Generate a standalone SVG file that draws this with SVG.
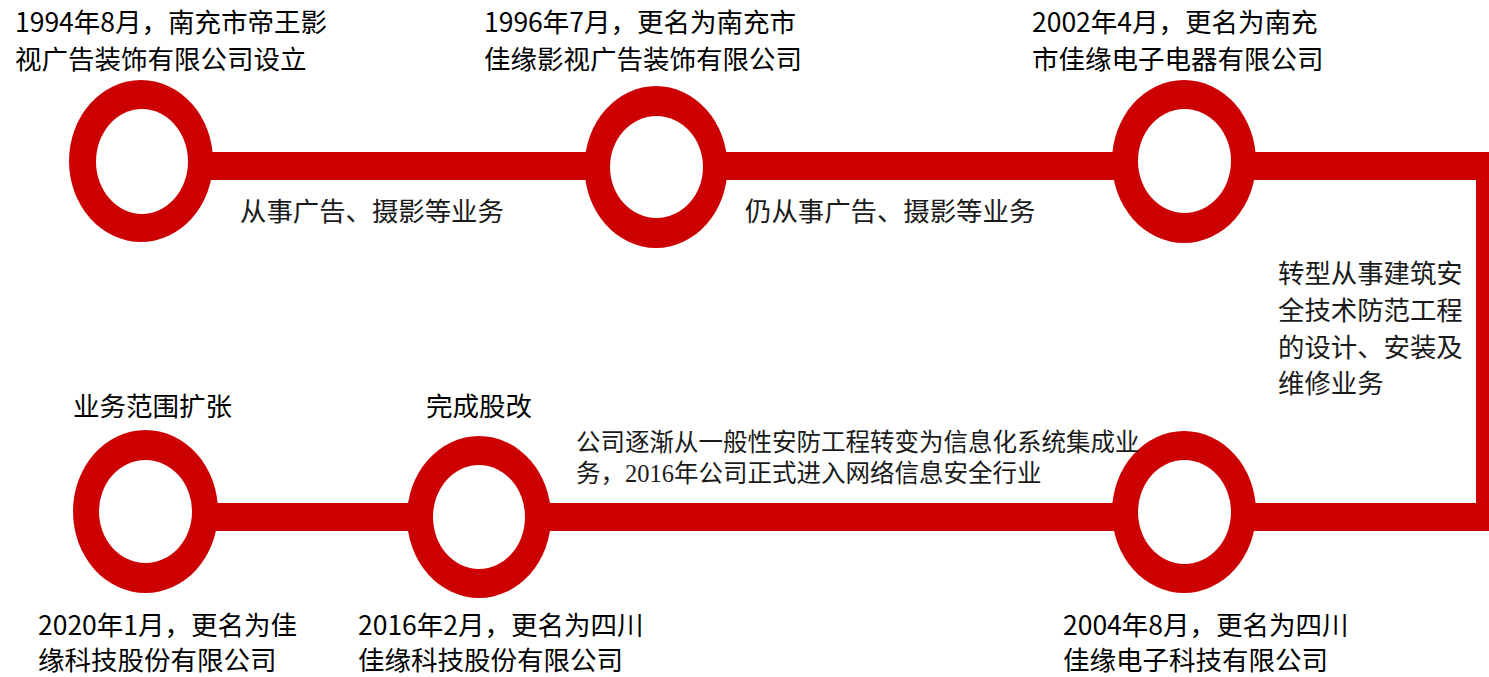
<svg xmlns="http://www.w3.org/2000/svg" width="1489" height="677" viewBox="0 0 1489 677">
<style>
.ro{fill:#CC0000}
.ri{fill:#FFFFFF}
.t{font-family:"Noto Sans CJK SC","Noto Sans",sans-serif;font-size:26.5px;fill:#000}
.s{font-family:"Liberation Serif","Noto Sans CJK SC",serif;font-size:26.4px;fill:#1a1a1a}
.s2{font-family:"Liberation Serif","Noto Sans CJK SC",serif;font-size:24.5px;fill:#1a1a1a}
</style>
<rect width="1489" height="677" fill="#fff"/>
<g id="connectors">
<path d="M141 166 H1490 V517 H145" fill="none" stroke="#CC0000" stroke-width="28" stroke-linejoin="miter"/>
</g>
<g id="node-1994">
<ellipse class="ro" cx="141" cy="161" rx="72" ry="81"/>
<ellipse class="ri" cx="142" cy="161.5" rx="46" ry="52.5"/>
<text class="t" x="15" y="32">1994年8月，南充市帝王影</text>
<text class="t" x="15" y="69">视广告装饰有限公司设立</text>
</g>
<g id="node-1996">
<ellipse class="ro" cx="656" cy="167" rx="71.5" ry="81"/>
<ellipse class="ri" cx="656.5" cy="167" rx="46.5" ry="51"/>
<text class="t" x="484" y="32">1996年7月，更名为南充市</text>
<text class="t" x="484" y="69">佳缘影视广告装饰有限公司</text>
</g>
<g id="node-2002">
<ellipse class="ro" cx="1184" cy="161.5" rx="72" ry="81.5"/>
<ellipse class="ri" cx="1184.5" cy="161" rx="46.5" ry="52"/>
<text class="t" x="1032" y="32">2002年4月，更名为南充</text>
<text class="t" x="1032" y="69">市佳缘电子电器有限公司</text>
</g>
<g id="node-2004">
<ellipse class="ro" cx="1184" cy="512" rx="72" ry="81"/>
<ellipse class="ri" cx="1184.5" cy="512" rx="46.5" ry="52"/>
<text class="t" x="1063" y="635">2004年8月，更名为四川</text>
<text class="t" x="1063" y="670">佳缘电子科技有限公司</text>
</g>
<g id="node-2016">
<ellipse class="ro" cx="479" cy="517" rx="72" ry="81"/>
<ellipse class="ri" cx="479" cy="517" rx="46" ry="52"/>
<text class="t" x="426" y="416">完成股改</text>
<text class="t" x="358" y="635">2016年2月，更名为四川</text>
<text class="t" x="358" y="670">佳缘科技股份有限公司</text>
</g>
<g id="node-2020">
<ellipse class="ro" cx="145.5" cy="511.5" rx="72.5" ry="81.5"/>
<ellipse class="ri" cx="145.5" cy="511.5" rx="46.5" ry="51.5"/>
<text class="t" x="73" y="416">业务范围扩张</text>
<text class="t" x="38" y="635">2020年1月，更名为佳</text>
<text class="t" x="38" y="670">缘科技股份有限公司</text>
</g>
<g id="labels">
<text class="s" x="240" y="221">从事广告、摄影等业务</text>
<text class="s" x="745" y="221">仍从事广告、摄影等业务</text>
<text class="s" x="1278" y="283">转型从事建筑安</text>
<text class="s" x="1278" y="320">全技术防范工程</text>
<text class="s" x="1278" y="357">的设计、安装及</text>
<text class="s" x="1278" y="393">维修业务</text>
<text class="s2" x="576" y="451">公司逐渐从一般性安防工程转变为信息化系统集成业</text>
<text class="s2" x="576" y="482">务，2016年公司正式进入网络信息安全行业</text>
</g>
</svg>
